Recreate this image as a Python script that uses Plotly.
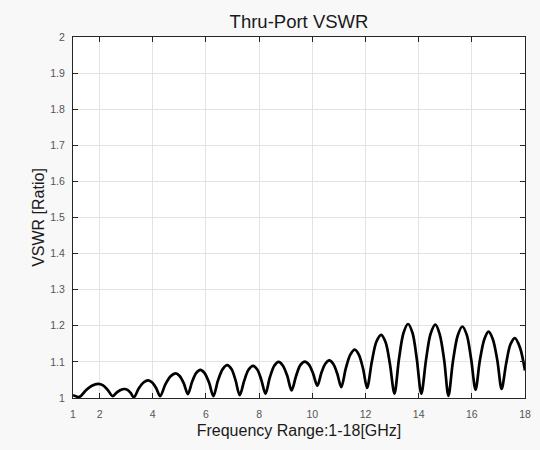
import plotly.graph_objects as go

# Frequency (GHz) and VSWR values (extrema + flank points)
freq_ghz = [1.00, 1.24, 1.48, 1.71, 1.95, 2.13, 2.31, 2.49, 2.64, 2.79, 2.94, 3.06, 3.17,
            3.29, 3.47, 3.65, 3.83, 3.98, 4.13, 4.28, 4.47, 4.67, 4.86, 5.01, 5.17,
            5.32, 5.48, 5.63, 5.79, 5.95, 6.12, 6.28, 6.45, 6.63, 6.80, 6.96, 7.11,
            7.27, 7.44, 7.60, 7.77, 7.93, 8.08, 8.24, 8.40, 8.57, 8.73, 8.89, 9.06,
            9.22, 9.39, 9.55, 9.72, 9.88, 10.03, 10.19, 10.34, 10.49, 10.64, 10.79, 10.94,
            11.09, 11.26, 11.43, 11.60, 11.75, 11.91, 12.06, 12.24, 12.41, 12.59, 12.76, 12.92,
            13.09, 13.26, 13.43, 13.60, 13.77, 13.93, 14.10, 14.28, 14.45, 14.63, 14.79, 14.96,
            15.12, 15.29, 15.47, 15.64, 15.81, 15.97, 16.14, 16.30, 16.47, 16.63, 16.79, 16.96,
            17.12, 17.29, 17.45, 17.62, 17.81, 18.00]
vswr = [1.008, 1.003, 1.021, 1.034, 1.039, 1.035, 1.022, 1.005, 1.015, 1.022, 1.025, 1.022, 1.014,
        1.002, 1.026, 1.043, 1.049, 1.043, 1.027, 1.005, 1.037, 1.060, 1.068, 1.061, 1.040,
        1.011, 1.045, 1.069, 1.078, 1.069, 1.042, 1.005, 1.048, 1.080, 1.091, 1.080, 1.050,
        1.008, 1.048, 1.078, 1.089, 1.079, 1.051, 1.012, 1.056, 1.089, 1.100, 1.090, 1.061,
        1.021, 1.061, 1.091, 1.101, 1.092, 1.068, 1.034, 1.069, 1.095, 1.104, 1.094, 1.067,
        1.030, 1.082, 1.120, 1.134, 1.120, 1.081, 1.028, 1.101, 1.156, 1.175, 1.154, 1.094,
        1.012, 1.108, 1.180, 1.205, 1.180, 1.108, 1.012, 1.107, 1.178, 1.203, 1.177, 1.105,
        1.006, 1.102, 1.173, 1.198, 1.175, 1.110, 1.023, 1.103, 1.163, 1.184, 1.163, 1.104,
        1.025, 1.095, 1.148, 1.166, 1.140, 1.076]

x_ticks = [1, 2, 4, 6, 8, 10, 12, 14, 16, 18]
y_ticks = [1.0, 1.1, 1.2, 1.3, 1.4, 1.5, 1.6, 1.7, 1.8, 1.9, 2.0]
y_labels = ["1", "1.1", "1.2", "1.3", "1.4", "1.5", "1.6", "1.7", "1.8", "1.9", "2"]

FONT = "Liberation Sans, Arial, sans-serif"

fig = go.Figure()
fig.add_trace(go.Scatter(
    x=freq_ghz, y=vswr, mode="lines",
    line=dict(color="black", width=2.7, shape="spline", smoothing=0.9),
    showlegend=False,
))

axis_common = dict(
    showgrid=True, gridcolor="#e3e3e3", gridwidth=1,
    showline=True, linecolor="#262626", linewidth=1, mirror="ticks",
    ticks="inside", ticklen=5, tickcolor="#262626",
    tickfont=dict(family=FONT, size=10.5, color="#555555"),
    zeroline=False,
)

fig.update_layout(
    width=540, height=450,
    margin=dict(l=73, r=9, t=37, b=52),
    paper_bgcolor="#f8f8f8", plot_bgcolor="white",
    title=dict(text="Thru-Port VSWR", x=0.5, xanchor="center", xref="paper",
               y=1 - 22 / 450, yanchor="middle",
               font=dict(family=FONT, size=18.5, color="#1a1a1a")),
    xaxis=dict(range=[1, 18], tickvals=x_ticks, ticklabelstandoff=6,
               title=dict(text="Frequency Range:1-18[GHz]", standoff=6,
                          font=dict(family=FONT, size=16, color="#1a1a1a")),
               **axis_common),
    yaxis=dict(range=[1, 2], tickvals=y_ticks, ticktext=y_labels, ticklabelstandoff=5,
               title=dict(text="VSWR [Ratio]", standoff=1,
                          font=dict(family=FONT, size=16, color="#1a1a1a")),
               **axis_common),
)

fig.write_html("out.html", config={"displayModeBar": False},
               post_script="document.body.style.margin='0';")
